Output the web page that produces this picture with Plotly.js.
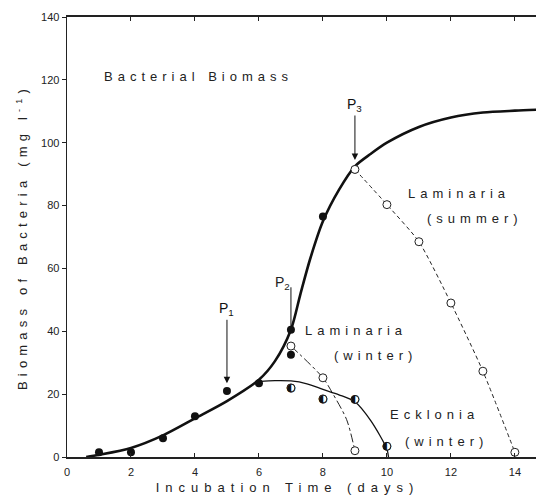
<!DOCTYPE html>
<html>
<head>
<meta charset="utf-8">
<script src="https://cdn.plot.ly/plotly-3.0.1.min.js"></script>
<style>
  body { margin: 0; background: #fff; }
  #chart { width: 536px; height: 503px; }
  .xtitle { letter-spacing: 6px; transform: translateX(-14px); }
  .ytitle { letter-spacing: 5.2px; }
  .annotation-text { letter-spacing: 5px; }
  .annotation[data-index="0"] .annotation-text,
  .annotation[data-index="1"] .annotation-text,
  .annotation[data-index="2"] .annotation-text { letter-spacing: 0; }
</style>
</head>
<body>
<div id="chart"></div>
<script>
// Bacterial biomass: measured points (filled)
const bactX = [1, 2, 3, 4, 5, 6, 7, 8, 9];
const bactY = [1.5, 1.5, 6, 13, 21, 23.5, 40.5, 76.5, 91.5];
// extra filled point at day 7 (below curve)
const bact7X = [7];
const bact7Y = [32.5];
// Fitted growth curve
const curveX = [0.6, 1, 2, 3, 4, 5, 6, 6.5, 7, 7.3, 7.6, 8, 8.5, 9, 9.5, 10, 11, 12, 13, 14, 14.7];
const curveY = [0, 0.7, 2.9, 6.9, 12.3, 17.8, 24.6, 30.5, 40.5, 52, 63, 75, 85, 92.5, 96.5, 100, 105, 108, 109.6, 110.2, 110.5];
// Laminaria (summer), open circles, dashed
const lamSumX = [9, 10, 11, 12, 13, 14];
const lamSumY = [91.5, 80.3, 68.5, 49, 27.3, 1.5];
// Laminaria (winter), open circles, dash-dot line
const lamWinX = [7, 8, 9];
const lamWinY = [35.3, 25.2, 2];
const lamWinLineX = [7, 8, 8.3, 8.74, 9];
const lamWinLineY = [35.3, 25.2, 20.3, 11.9, 2];
// Ecklonia (winter), half-filled circles, solid thin line
const eckX = [7, 8, 9, 10];
const eckY = [22, 18.5, 18.3, 3.4];
const eckLineX = [6, 6.5, 7, 7.5, 8, 8.5, 9, 9.5, 10, 10.05];
const eckLineY = [24, 24.3, 24.2, 23.3, 21.5, 19.8, 17.6, 11.5, 2.5, 0];
// Axis ticks
const xTicks = [0, 2, 4, 6, 8, 10, 12, 14];
const yTicks = [0, 20, 40, 60, 80, 100, 120, 140];

const font = 'Liberation Sans, Arial, Helvetica, sans-serif';

const traces = [
  { x: curveX, y: curveY, mode: 'lines', line: {color: '#111', width: 2.6, shape: 'spline', smoothing: 0.8}, showlegend: false },
  { x: lamSumX, y: lamSumY, mode: 'lines', line: {color: '#222', width: 1, dash: '4px,3px', shape: 'spline', smoothing: 0.6}, showlegend: false },
  { x: lamWinLineX, y: lamWinLineY, mode: 'lines', line: {color: '#222', width: 1, dash: 'dashdot', shape: 'spline', smoothing: 0.8}, showlegend: false },
  { x: eckLineX, y: eckLineY, mode: 'lines', line: {color: '#111', width: 1.3, shape: 'spline', smoothing: 0.8}, showlegend: false },
  { x: bactX, y: bactY, mode: 'markers', marker: {symbol: 'circle', size: 8, color: '#111'}, showlegend: false },
  { x: bact7X, y: bact7Y, mode: 'markers', marker: {symbol: 'circle', size: 8, color: '#111'}, showlegend: false },
  { x: lamSumX, y: lamSumY, mode: 'markers', marker: {symbol: 'circle', size: 8, color: '#fff', line: {color: '#222', width: 1}}, showlegend: false },
  { x: lamWinX, y: lamWinY, mode: 'markers', marker: {symbol: 'circle', size: 8, color: '#fff', line: {color: '#222', width: 1}}, showlegend: false },
  { x: eckX, y: eckY, mode: 'markers', marker: {symbol: 'circle', size: 8, color: '#fff', line: {color: '#222', width: 1}}, showlegend: false },
  { x: eckX, y: eckY, mode: 'text', text: eckX.map(() => '◐'), textposition: 'middle center', textfont: {family: 'DejaVu Sans', size: 11, color: '#111'}, showlegend: false }
];

const pArrow = (txt, x, y, ay, ty) => ({ x: x, y: y, ax: x, ay: ty, xref: 'x', yref: 'y', axref: 'x', ayref: 'y', text: txt, showarrow: true, arrowhead: 2, arrowsize: 1.3, arrowwidth: 1, arrowcolor: '#111', standoff: 0, startstandoff: 0, font: {family: font, size: 14, color: '#111'} });
const label = (txt, x, y, anchor, size) => ({ x: x, y: y, xref: 'x', yref: 'y', text: txt, showarrow: false, xanchor: anchor, yanchor: 'middle', font: {family: font, size: size, color: '#222'} });

const layout = {
  width: 536, height: 503,
  margin: {l: 67, r: 0, t: 17, b: 46},
  paper_bgcolor: '#fff', plot_bgcolor: '#fff',
  font: {family: font, color: '#222'},
  xaxis: {
    range: [0, 14.66], tickvals: xTicks, ticktext: xTicks.map(String),
    showgrid: false, zeroline: false, showline: true, linecolor: '#222', linewidth: 1.6,
    mirror: 'ticks', ticks: 'inside', ticklen: 4, tickcolor: '#222', ticklabelstandoff: 4,
    tickfont: {family: font, size: 11, color: '#222'},
    title: {text: 'Incubation Time (days)', font: {family: font, size: 13, color: '#222'}, standoff: 6}
  },
  yaxis: {
    range: [0, 140], tickvals: yTicks, ticktext: yTicks.map(String),
    showgrid: false, zeroline: false, showline: true, linecolor: '#222', linewidth: 1.4,
    ticks: 'outside', ticklen: 4, tickcolor: '#222',
    tickfont: {family: font, size: 11, color: '#222'},
    title: {text: 'Biomass of Bacteria (mg l<sup>-1</sup>)', font: {family: font, size: 13, color: '#222'}, standoff: 10}
  },
  shapes: [
    { type: 'line', xref: 'x', yref: 'y', x0: 7, x1: 7, y0: 54, y1: 41.5, line: {color: '#111', width: 1} }
  ],
  annotations: [
    pArrow('P<sub>1</sub>', 5, 23.5, 41.5, 47),
    pArrow('P<sub>3</sub>', 9, 94.5, 106, 112),
    label('P<sub>2</sub>', 6.75, 55.5, 'center', 14),
    label('Bacterial Biomass', 1.08, 121, 'left', 13),
    label('Laminaria', 10.6, 84, 'left', 13),
    label('(summer)', 11.2, 76, 'left', 13),
    label('Laminaria', 7.38, 40.4, 'left', 13),
    label('(winter)', 8.27, 32.2, 'left', 13),
    label('Ecklonia', 10.02, 13.4, 'left', 13),
    label('(winter)', 10.5, 5, 'left', 13)
  ]
};

Plotly.newPlot('chart', traces, layout, {staticPlot: true, displayModeBar: false});
</script>
</body>
</html>
